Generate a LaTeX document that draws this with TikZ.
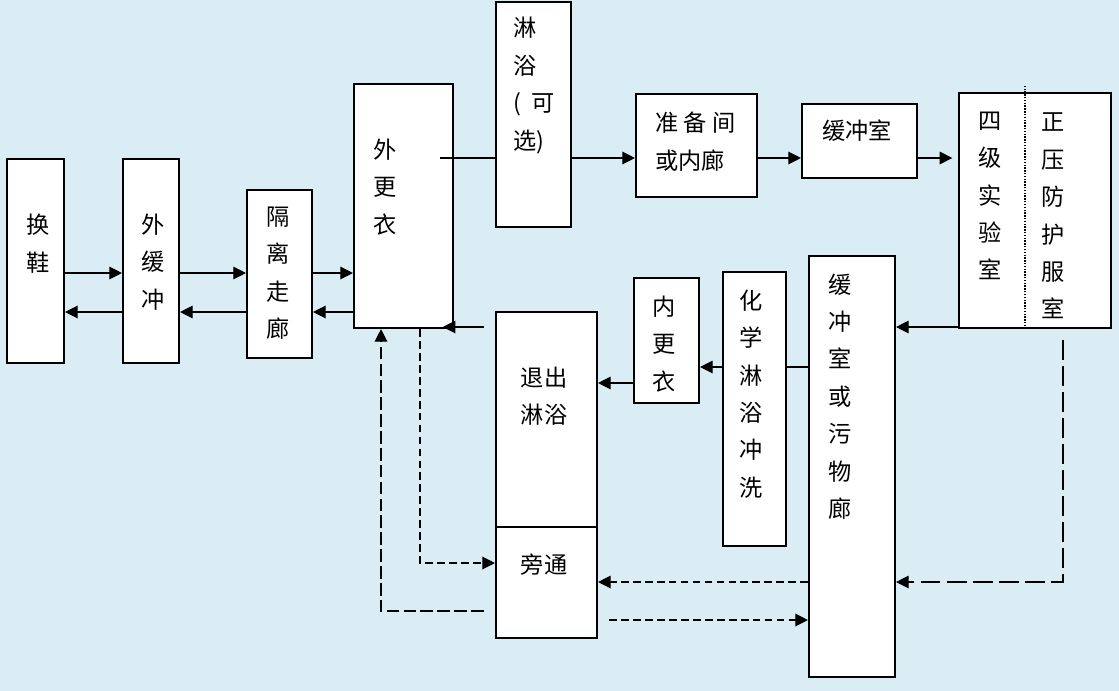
\documentclass[tikz,border=0pt]{standalone}
\usepackage{fontspec}
\newfontfamily\cjk{Noto Sans CJK SC}
\usetikzlibrary{arrows.meta}
\definecolor{bgblue}{RGB}{218,237,244}
\newcommand\pxu{0.025cm}
\tikzset{
  room/.style 2 args={draw, line width=1.5pt, fill=white, inner sep=0pt,
    minimum width=#1*\pxu, minimum height=#2*\pxu},
  lbl/.style={font=\cjk\fontsize{16.5pt}{26.6pt}\selectfont, align=center, inner sep=0pt},
  link/.style={line width=0.9pt},
  flow/.style={link, -{Triangle[length=9pt,width=9pt]}},
  dsh/.style={dash pattern=on 5.5pt off 3pt},
  ldsh/.style={dash pattern=on 9pt off 3pt},
  lldsh/.style={dash pattern=on 14pt off 4.5pt},
  divider/.style={line width=1.3pt, dash pattern=on 1pt off 1pt}
}
\begin{document}
\begin{tikzpicture}[x=\pxu, y=-\pxu]
	\useasboundingbox (0,0) rectangle (1119,691);
	\fill[bgblue] (0,0) rectangle (1119,691);
	% rooms: name / centre x / centre y / width / height
	\foreach \n/\x/\y/\w/\h in {hx/35.5/261/57/204, whc/151/261/56/204,
		glzl/279.5/274/65/168, wgy/403.5/206/99/244, ly/533.5/114.5/75/225,
		zbj/696.5/145.5/121/103, hcs/859.5/141/115/74, sjs/1035/210.5/152/235,
		wwl/852/466.5/86/421, hxly/754.5/409/63/274, ngy/666.5/340.5/65/125,
		tcly/546.5/419.5/101/215, pt/546.5/582.5/101/111}
		\node[room={\w}{\h}] (\n) at (\x,\y) {};
	\draw[divider] (sjs.south -| 1025,0) -- ++(0,-243);
	% labels
	\node[lbl] (hxt) at (38,243.5) {换\\鞋};
	\node[lbl] (whct) at (153,262) {外\\缓\\冲};
	\node[lbl] (glzlt) at (278,273) {隔\\离\\走\\廊};
	\node[lbl] (wgyt) at (385,187) {外\\更\\衣};
	\node[lbl, align=left, anchor=west] (lyt) at (513,85.5) {淋\\浴\\(\ \ 可\\选)};
	\node[lbl, align=left, anchor=west] (zbjt) at (655,141.5) {准 备 间\\或内廊};
	\node[lbl] (hcst) at (857,131) {缓冲室};
	\node[lbl] (sjst) at (990,196) {四\\级\\实\\验\\室};
	\node[lbl] (zyft) at (1053,216) {正\\压\\防\\护\\服\\室};
	\node[lbl] (wwlt) at (840,396.5) {缓\\冲\\室\\或\\污\\物\\廊};
	\node[lbl] (hxlyt) at (751,394) {化\\学\\淋\\浴\\冲\\洗};
	\node[lbl] (ngyt) at (664,344) {内\\更\\衣};
	\node[lbl] (tclyt) at (544,396) {退出\\淋浴};
	\node[lbl] (ptt) at (544,565) {旁通};
	% entry and exit between the outer rooms
	\foreach \a/\b in {hx/whc, whc/glzl, glzl/wgy} {
		\draw[flow] (\a.east |- 0,273) -- (\b.west |- 0,273);
		\draw[flow] (\b.west |- 0,312) -- (\a.east |- 0,312);
	}
	\draw[link] (ly.west |- 0,158) -- ++(-55,0);
	\draw[flow] (ly.east |- 0,158) -- (zbj.west |- 0,158);
	\draw[flow] (zbj.east |- 0,158) -- (hcs.west |- 0,158);
	\draw[flow, shorten >=4pt] (hcs.east |- 0,158) -- (sjs.west |- 0,158);
	\draw[flow] (sjs.west |- 0,327) -- (wwl.east |- 0,327);
	\draw[link] (wwl.west |- 0,367) -- (hxly.east |- 0,367);
	\draw[flow] (hxly.west |- 0,367) -- (ngy.east |- 0,367);
	\draw[flow] (ngy.west |- 0,383) -- (tcly.east |- 0,383);
	\draw[flow, shorten <=8pt, shorten >=-8pt] (tcly.west |- 0,327) -- (wgy.east |- 0,327);
	% bypass
	\draw[flow, dsh] (wgy.south -| 420,0) |- (pt.west |- 0,563);
	\draw[flow, ldsh, shorten <=8pt] (pt.west |- 0,611) -| (wgy.south -| 381,0);
	\draw[flow, dsh] (wwl.west |- 0,582) -- (pt.east |- 0,582);
	\draw[flow, dsh, shorten <=8pt] (pt.east |- 0,620) -- (wwl.west |- 0,620);
	\draw[flow, lldsh, shorten <=8pt] (sjs.south -| 1063,0) |- (wwl.east |- 0,582);
\end{tikzpicture}
\end{document}
